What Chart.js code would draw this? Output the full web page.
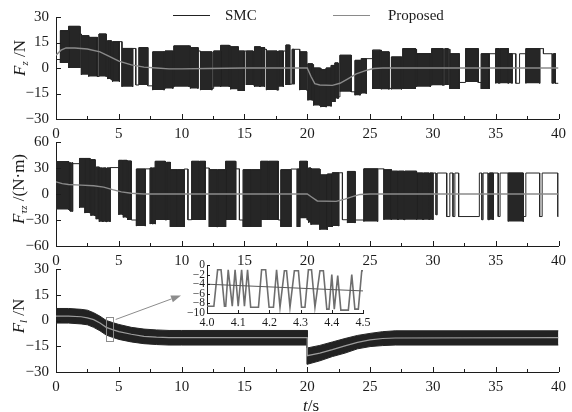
<!DOCTYPE html>
<html><head><meta charset="utf-8">
<script src="https://cdn.jsdelivr.net/npm/chart.js@4/dist/chart.umd.min.js"></script>
<style>
html,body{margin:0;padding:0;background:#fff;}
#wrap{position:relative;width:572px;height:412px;overflow:hidden;font-family:"Liberation Serif","Times New Roman",serif;color:#1a1a1a;}
canvas{position:absolute;left:0;top:0;}
.yt{position:absolute;white-space:nowrap;font-size:17px;line-height:17px;transform:translate(-50%,-50%) rotate(-90deg);}
.yt sub{font-size:11px;vertical-align:-3px;line-height:0;}
.lg{position:absolute;font-size:15px;line-height:15px;white-space:nowrap;}
.ll{position:absolute;height:0;}
#xt{position:absolute;font-size:17px;line-height:17px;transform:translate(-50%,-50%);white-space:nowrap;}
</style>
</head><body>
<div id="wrap">
<canvas id="c1" width="572" height="412"></canvas>
<canvas id="c2" width="572" height="412"></canvas>
<canvas id="c3" width="572" height="412"></canvas>
<canvas id="c4" width="572" height="412"></canvas>
<div class="ll" style="left:173px;top:15px;width:37px;border-top:1.5px solid #222;"></div>
<div class="lg" style="left:225px;top:8px;">SMC</div>
<div class="ll" style="left:333px;top:15px;width:37px;border-top:1.5px solid #8a8a8a;"></div>
<div class="lg" style="left:388px;top:8px;">Proposed</div>
<div class="yt" style="left:19px;top:58px;"><i>F</i><sub><i>z</i></sub> /N</div>
<div class="yt" style="left:18px;top:189px;"><i>F</i><sub><i>τz</i></sub> /(N·m)</div>
<div class="yt" style="left:18px;top:316px;"><i>F</i><sub><i>l</i></sub> /N</div>
<div id="xt" style="left:311px;top:405px;"><i>t</i>/s</div>
</div>
<script>
// ---------- Data: F_z (top panel) ----------
// SMC chattering described as consecutive blocks: edges (s), upper/lower level, mode
// D = dense switching (filled), H = held at upper level, L = held at lower level
const smc1Edges = [0,0.35,1.00,1.90,2.02,2.60,3.30,3.42,4.00,4.12,4.40,4.50,5.05,5.25,6.10,6.35,6.60,7.30,7.70,8.60,8.68,9.30,9.38,10.60,10.70,11.30,11.50,12.40,12.55,13.10,13.80,13.90,14.50,15.00,15.15,15.70,15.80,16.20,16.28,16.60,16.75,17.60,17.72,18.10,18.30,18.60,18.80,18.95,19.40,19.95,20.05,20.40,20.50,21.00,21.08,21.50,21.90,22.20,22.45,22.60,23.50,23.80,24.20,24.30,24.70,25.20,25.80,25.90,26.50,26.70,27.50,27.60,28.60,28.70,29.80,29.90,30.80,30.95,31.20,31.35,32.10,32.60,33.60,33.85,34.50,35.00,35.25,35.32,36.00,36.30,36.60,36.90,37.40,38.50,38.80,39.50,39.60,39.75,40.00];
const smc1Hi = [5,22,24.5,20,19,18,18,20,16,16, 16,15.5,15.5,11.5,11.5,11.5,12,11,9.5,9.5, 10,10,13,13,12,10,9.5,9.5,10,13.3, 13,12.5,10,10,10,10,12.5,12.5,12,11, 10,10,10,10,13.5,13.5,11,11,9.5,9.5, 2.5,2,0,0,-1,0,1.5,3,3,7.5, 7.5,4.5,4.5,5.5,5.5,10.5,10.5,9.5,9.5,6.5, 6.5,11.4,11,8.5,8.5,11.4,11.4,11.4,11,8.4, 8.4,11.4,9,8.4,8.4,11.4,11,11.4,8.4,8.4, 8.4,8.4,11.4,11.4,8.4,8.4,8.4,8.4];
const smc1Lo = [5,3,0,-2,-4,-5,-5,-5,-6,-6.5, -7,-8,-9,-11,-10,-10,-10,-10.5,-13,-13, -12,-12,-11,-11,-12,-12,-13,-12,-11,-11, -11,-12.5,-13.5,-13,-10,-10,-11,-11,-11,-11, -13,-13,-11,-10,-10,-9.5,-9.5,-9.5,-13,-13, -19,-20,-22,-22,-23,-22.5,-20,-18,-17,-14, -14,-16,-16,-15,-15,-12.3,-12,-12.5,-12,-12.5, -12,-12.3,-12,-11,-11,-10.2,-10,-10,-10,-12.3, -8.5,-8.2,-8.5,-12.3,-9,-9,-9,-9,-9,-9, -9,-9,-9,-9,-9,-9,-9,-9];
const smc1Mode = "HDDHDDLDHD"+"LDHDHLDLDH"+"DHDHDHDLDD"+"HDDHDLDHDH"+"DLDHDLDHDL"+"DHDHDDDDLD"+"LDHDHDHDLD"+"HDHDHDLDHD"+"LDLDHDHDDH"+"LHDHHLDL";
const prop1T = [0,0.4,0.8,1.5,2.5,3.5,4.2,5,6,7,8,9,10,12,15,20,20.3,20.6,21,22,22.6,23.2,23.9,24.7,25.3,26,30,40];
const prop1V = [7.5,10.5,11.8,11.8,11.2,9.5,7,4,1.8,0.5,0,-0.5,-0.5,-0.3,0,0,-5,-9.2,-10,-10.2,-9,-6.5,-3.5,-1.4,-0.3,0,0,0];

// ---------- Data: F_tau_z (middle panel) ----------
const smc2Edges = [0,1.00,1.08,1.15,1.25,1.32,1.87,2.30,2.70,2.78,3.10,3.20,3.45,3.70,3.76,4.00,4.06,4.30,5.00,5.30,5.36,5.65,5.70,6.00,6.40,7.10,7.50,7.68,7.74,7.90,8.70,8.80,9.10,9.60,9.66,10.20,10.50,10.80,11.40,11.46,11.90,12.20,12.80,12.86,13.50,14.30,14.60,14.90,15.50,15.55,16.30,16.90,16.96,17.70,17.90,18.70,19.20,19.40,20.00,20.10,20.30,21.00,21.60,22.00,22.50,22.80,23.20,23.80,24.50,25.60,26.10,26.70,27.20,27.26,27.70,27.76,28.70,29.20,29.26,29.70,29.76,30.00,30.25,30.35,31.10,31.35,31.60,31.75,32.05,33.70,33.90,34.00,34.40,34.50,34.80,35.20,35.35,36.00,37.20,37.40,38.50,38.70,39.95,40.00];
const smc2Hi = [37.5,36,36,36,36,35,41,41,39,39.6, 35,31,30,30,30,30,30,30.5,38.8,38.8, 38.8,38.8,38,38,28.8,29,30,30,30,37.7, 37,36.5,28,28,28,28.8,28.8,37.7,37.7,37.7, 30,28,28,28,37.7,29,29,28,28,28, 37.7,37.7,37.7,30,28,28.8,28.8,37.7,30,30, 28.8,22,23,24.5,24.5,24.5,26,26,29,29, 28,26.3,26.3,26.3,26.3,26.3,24.2,24.2,24.2,24.2, 24.2,24.2,24.2,24.2,24.2,24.2,24.2,24.2,24.2,24.2, 24.2,24.2,24.2,24.2,24.2,24.2,24.2,24.2,24.2,24.2, 24.2,24.2,24.2];
const smc2Lo = [-18,-19,-19,-20,-20,-20,-16,-22,-24,-25, -25,-29,-32,-32,-32,-32,-32,-30,-24,-24, -27,-27,-30,-30,-37,-35,-34.7,-34.7,-34.7,-30, -30,-30,-38,-38,-38,-29.7,-29.7,-30,-30,-30, -30,-38,-38,-38,-30,-30,-30,-38,-38,-38, -30,-30,-30,-30,-38,-36,-38,-28,-30,-33, -35.4,-41.2,-38,-37,-29.7,-29.7,-33.5,-30,-31.6,-30, -29.7,-29.7,-29.7,-29.7,-29.7,-29.7,-29.7,-29.7,-29.7,-29.7, -29.7,-24,-24,-24,-26,-26,-26,-26,-26,-29.7, -29.7,-29.7,-29.7,-29.7,-26,-26,-26,-31.6,-26,-26, -26,-26,-26];
const smc2Mode = "DHDLDHDDHD"+"LDDHDLDHDH"+"DLDLDHDHDD"+"LDDHDHLDHD"+"HDLDDHLDHD"+"DHDLDHDDLD"+"DDDDHLDLDH"+"DDHDLDDHDH"+"DHLHLHLHLH"+"LHLDHLHDLH"+"LHL";
const prop2T = [0,0.5,1,2,3,3.8,4.5,5.2,6,7,20,20.4,20.8,22.3,23,23.6,24.2,25,40];
const prop2V = [14,12,11,10.2,9.5,8,5,2.5,0.8,0,0,-4,-8,-8.5,-6,-3,-0.5,0,0];

// ---------- Data: F_l (bottom panel) ----------
const band3T  = [0,1,2,2.5,3,3.5,4,4.5,5,6,7,8,9,10,20,20,21,22,23,24,25,26,27,40];
const band3Hi = [7,7,6.5,6,4.5,2.5,0,-1.2,-2.3,-4,-5,-5.5,-5.8,-5.8,-5.8,-16,-14.5,-12.5,-10.5,-8.7,-7.5,-6.5,-6,-6];
const band3Lo = [-1.5,-1.5,-2,-2.5,-4,-6,-8.5,-9.8,-11,-12.5,-13.5,-14,-14.3,-14.3,-14.3,-25.5,-23.5,-21,-19,-16.5,-15.2,-14.6,-14.3,-14.3];
const prop3V  = [2.5,2.5,2.2,1.5,0.5,-1.5,-4,-5.3,-6.5,-8,-9.2,-9.7,-10,-10,-10,-20.5,-19,-17,-14.8,-12.7,-11.3,-10.5,-10.2,-10];
const zoomBox = [4.0, 4.55, 2, -12];      // t0, t1, top, bottom
const arrowFrom = [4.75, 0.6];
const arrowTo = [9.95, 14.6];

// ---------- Data: inset (t = 4.0 .. 4.5) ----------
const insetT = [4.000,4.022,4.034,4.045,4.056,4.060,4.068,4.081,4.090,4.100,4.111,4.120,4.130,4.140,4.165,4.175,4.188,4.199,4.213,4.223,4.234,4.248,4.255,4.266,4.280,4.293,4.303,4.314,4.325,4.335,4.346,4.362,4.373,4.384,4.391,4.400,4.408,4.419,4.429,4.453,4.464,4.474,4.485,4.496,4.500];
const insetSMC = [-8.6,-8.6,-1.0,-1.0,-8.6,-8.6,-1.0,-8.6,-1.0,-8.6,-1.0,-8.6,-1.0,-8.8,-8.8,-1.0,-1.0,-8.8,-8.8,-1.0,-8.8,-1.2,-1.2,-8.8,-1.2,-1.2,-8.8,-8.8,-1.0,-1.0,-8.8,-1.2,-1.2,-9.2,-9.2,-2.0,-9.2,-2.2,-9.4,-9.4,-2.0,-9.2,-9.2,-1.2,-1.2];
const insetPropT = [4.0, 4.5];
const insetPropV = [-4.0, -5.4];

// ---------- helpers ----------
const pts = (xs, ys) => xs.map((x, i) => ({x: x, y: ys[i]}));
function blocksFill(edges, hi, lo, mode) {
  const out = [];
  for (let i = 0; i < mode.length; i++) {
    if (mode[i] !== 'D') continue;
    const a = edges[i], b = edges[i + 1];
    out.push({x: a, y: lo[i]}, {x: a, y: hi[i]}, {x: b, y: hi[i]}, {x: b, y: lo[i]}, {x: b, y: null});
  }
  return out;
}
function blocksLine(edges, hi, lo, mode) {
  const out = [];
  for (let i = 0; i < mode.length; i++) {
    const a = edges[i], b = edges[i + 1], m = mode[i];
    if (m === 'D') out.push({x: a, y: lo[i]}, {x: a, y: hi[i]}, {x: b, y: hi[i]}, {x: b, y: lo[i]});
    else if (m === 'H') out.push({x: a, y: hi[i]}, {x: b, y: hi[i]});
    else out.push({x: a, y: lo[i]}, {x: b, y: lo[i]});
  }
  return out;
}
const minus = v => (v < 0 ? '\u2212' + Math.abs(v) : String(v));
const serif = 'Liberation Serif';
Chart.defaults.font.family = serif;
const INK = '#1c1c1c';
const SMC_C = '#262626';
const PROP_C = '#8a8a8a';

const inwardTicks = {
  id: 'inwardTicks',
  afterDraw(chart, args, o) {
    const ctx = chart.ctx, ca = chart.chartArea, xs = chart.scales.x, ys = chart.scales.y;
    ctx.save();
    ctx.strokeStyle = INK; ctx.lineWidth = 1;
    ctx.beginPath();
    const xv = xs.ticks.map(t => t.value);
    const addX = (v, len) => { const p = Math.round(xs.getPixelForValue(v)) + 0.5; ctx.moveTo(p, ca.bottom); ctx.lineTo(p, ca.bottom - len); };
    xv.forEach((v, i) => { addX(v, o.major); if (o.minor && i < xv.length - 1) addX((v + xv[i + 1]) / 2, o.minor); });
    ys.ticks.forEach(t => { const p = Math.round(ys.getPixelForValue(t.value)) + 0.5; ctx.moveTo(ca.left, p); ctx.lineTo(ca.left + o.yLen, p); });
    ctx.stroke();
    ctx.restore();
  }
};

const zoomMark = {
  id: 'zoomMark',
  afterDatasetsDraw(chart) {
    const ctx = chart.ctx, xs = chart.scales.x, ys = chart.scales.y;
    const x0 = xs.getPixelForValue(zoomBox[0]), x1 = xs.getPixelForValue(zoomBox[1]);
    const y0 = ys.getPixelForValue(zoomBox[2]), y1 = ys.getPixelForValue(zoomBox[3]);
    ctx.save();
    ctx.strokeStyle = '#8c8c8c'; ctx.fillStyle = '#8c8c8c'; ctx.lineWidth = 1;
    ctx.strokeRect(Math.round(x0) + 0.5, Math.round(y0) + 0.5, Math.round(x1 - x0), Math.round(y1 - y0));
    const ax = xs.getPixelForValue(arrowFrom[0]), ay = ys.getPixelForValue(arrowFrom[1]);
    const bx = xs.getPixelForValue(arrowTo[0]), by = ys.getPixelForValue(arrowTo[1]);
    const ang = Math.atan2(by - ay, bx - ax), L = 10, W = 3.5;
    const hx = bx - L * Math.cos(ang), hy = by - L * Math.sin(ang);
    ctx.beginPath(); ctx.moveTo(ax, ay); ctx.lineTo(hx, hy); ctx.stroke();
    ctx.beginPath();
    ctx.moveTo(bx, by);
    ctx.lineTo(hx + W * Math.sin(ang), hy - W * Math.cos(ang));
    ctx.lineTo(hx - W * Math.sin(ang), hy + W * Math.cos(ang));
    ctx.closePath(); ctx.fill();
    ctx.restore();
  }
};

function mainScales(yMin, yMax, yStep) {
  return {
    x: {type: 'linear', min: 0, max: 40,
      ticks: {stepSize: 5, autoSkip: false, maxRotation: 0, font: {family: serif, size: 15}, color: INK, padding: 6, callback: v => minus(v)},
      grid: {display: false, drawTicks: false}, border: {display: true, color: INK, width: 1},
      afterFit: s => { s.height = 30; }},
    y: {type: 'linear', min: yMin, max: yMax,
      ticks: {stepSize: yStep, autoSkip: false, font: {family: serif, size: 15}, color: INK, padding: 7, callback: v => minus(v)},
      grid: {display: false, drawTicks: false}, border: {display: true, color: INK, width: 1},
      afterFit: s => { s.width = 56; }}
  };
}
function baseOpts(pad, scales) {
  return {
    responsive: false, animation: false, devicePixelRatio: 1, events: [],
    layout: {padding: pad},
    elements: {point: {radius: 0}, line: {tension: 0}},
    scales: scales,
    plugins: {legend: {display: false}, tooltip: {enabled: false}, inwardTicks: {major: 5, minor: 3, yLen: 5}}
  };
}
function smcPanel(id, pad, edges, hi, lo, mode, pT, pV, yMin, yMax, yStep) {
  return new Chart(document.getElementById(id), {
    type: 'line',
    data: {datasets: [
      {label: 'Proposed', data: pts(pT, pV), borderColor: PROP_C, borderWidth: 1.4, fill: false},
      {label: 'SMC', data: blocksLine(edges, hi, lo, mode), borderColor: SMC_C, borderWidth: 1, fill: false},
      {label: 'SMC (dense switching)', data: blocksFill(edges, hi, lo, mode), borderColor: SMC_C, backgroundColor: SMC_C, borderWidth: 1, fill: 'shape'}
    ]},
    options: baseOpts(pad, mainScales(yMin, yMax, yStep)),
    plugins: [inwardTicks]
  });
}

smcPanel('c1', {left: 0, right: 9, top: 17, bottom: 263}, smc1Edges, smc1Hi, smc1Lo, smc1Mode, prop1T, prop1V, -30, 30, 15);
smcPanel('c2', {left: 0, right: 9, top: 142, bottom: 136}, smc2Edges, smc2Hi, smc2Lo, smc2Mode, prop2T, prop2V, -60, 60, 30);

new Chart(document.getElementById('c3'), {
  type: 'line',
  data: {datasets: [
    {label: 'Proposed', data: pts(band3T, prop3V), borderColor: '#9c9c9c', borderWidth: 1.2, fill: false},
    {label: 'SMC', data: pts(band3T, band3Hi), borderColor: SMC_C, backgroundColor: '#222', borderWidth: 1, fill: '+1'},
    {label: 'SMC lower', data: pts(band3T, band3Lo), borderColor: SMC_C, borderWidth: 1, fill: false}
  ]},
  options: baseOpts({left: 0, right: 9, top: 269, bottom: 10}, mainScales(-30, 30, 15)),
  plugins: [inwardTicks, zoomMark]
});

const insetOpts = baseOpts({left: 170, right: 209, top: 265, bottom: 79}, {
  x: {type: 'linear', min: 4.0, max: 4.5,
    ticks: {stepSize: 0.1, autoSkip: false, maxRotation: 0, font: {family: serif, size: 12, lineHeight: 1}, color: INK, padding: 4, callback: v => v.toFixed(1)},
    grid: {display: false, drawTicks: false}, border: {display: true, color: INK, width: 1},
    afterFit: s => { s.height = 20; }},
  y: {type: 'linear', min: -10, max: 0,
    ticks: {stepSize: 2, autoSkip: false, font: {family: serif, size: 11.5, lineHeight: 1}, color: INK, padding: 2, callback: v => minus(v)},
    grid: {display: false, drawTicks: false}, border: {display: true, color: INK, width: 1},
    afterFit: s => { s.width = 37; }}
});
insetOpts.plugins.inwardTicks = {major: 3, minor: 0, yLen: 3};
new Chart(document.getElementById('c4'), {
  type: 'line',
  data: {datasets: [
    {label: 'Proposed', data: pts(insetPropT, insetPropV), borderColor: '#5a5a5a', borderWidth: 1, fill: false},
    {label: 'SMC', data: pts(insetT, insetSMC), borderColor: '#6e6e6e', borderWidth: 1.6, fill: false}
  ]},
  options: insetOpts,
  plugins: [inwardTicks]
});
</script>
</body></html>
